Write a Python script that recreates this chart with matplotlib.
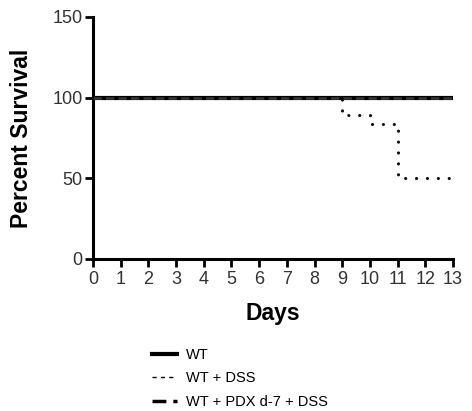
import matplotlib
matplotlib.use("Agg")
import matplotlib.pyplot as plt
from matplotlib.lines import Line2D

plt.rcParams['font.family'] = ['Liberation Sans', 'DejaVu Sans']

# Data (Kaplan-Meier step curves)
days_wt = [0, 13]
surv_wt = [100, 100]
days_pdx = [0, 13]
surv_pdx = [100, 100]
days_dss = [0, 9, 10, 11, 13]
surv_dss = [100, 88.9, 83.3, 50, 50]

x_ticks = list(range(0, 14))
y_ticks = [0, 50, 100, 150]
series_names = ["WT", "WT + DSS", "WT + PDX d-7 + DSS"]

fig = plt.figure(figsize=(4.72, 4.11), dpi=100)
ax = fig.add_axes([0.197, 0.370, 0.763, 0.589])

ax.step(days_dss, surv_dss, where='post', color='#111111', lw=2.3,
        linestyle=(0, (0.01, 3.4)), dash_capstyle='round', zorder=2)
ax.step(days_wt, surv_wt, where='post', color='black', lw=3.0, zorder=3)
ax.step(days_pdx, surv_pdx, where='post', color='#333333', lw=2.0,
        linestyle=(0, (3, 1.5)), zorder=4)

ax.set_xlim(0, 13)
ax.set_ylim(0, 150)
ax.set_xticks(x_ticks)
ax.set_yticks(y_ticks)
for s in ['top', 'right']:
    ax.spines[s].set_visible(False)
for s in ['left', 'bottom']:
    ax.spines[s].set_linewidth(2.2)
ax.tick_params(axis='both', direction='out', length=5.5, width=2, labelsize=13,
               colors='black', labelcolor='#333333', pad=2)
ax.tick_params(axis='x', pad=3)
ax.set_xlabel("Days", fontsize=16.5, fontweight='bold', labelpad=10)
ax.set_ylabel("Percent Survival", fontsize=16.5, fontweight='bold', labelpad=14)

handles = [
    Line2D([0], [0], color='black', lw=3),
    Line2D([0], [0], color='black', lw=1, linestyle=(0, (3, 3))),
    Line2D([0], [0], color='black', lw=2.5, linestyle=(0, (4, 2, 1.5, 2))),
]
fig.legend(handles, series_names, loc='upper left', bbox_to_anchor=(0.31, 0.168),
           frameon=False, fontsize=10.5, handlelength=1.7, labelspacing=0.65,
           handletextpad=0.6, borderaxespad=0)

fig.savefig("out.png", dpi=100)
